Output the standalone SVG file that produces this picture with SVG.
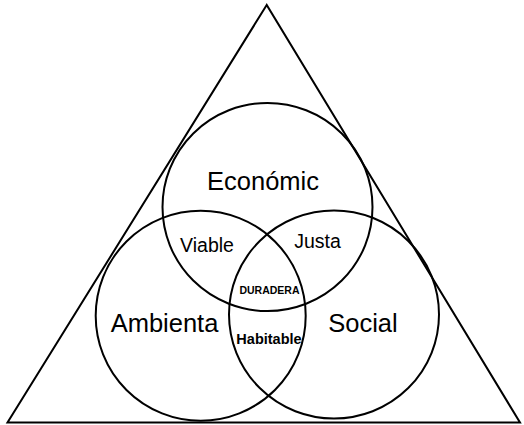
<svg xmlns="http://www.w3.org/2000/svg" width="524" height="425" viewBox="0 0 524 425">
<style>
.s{fill:none;stroke:#000;stroke-width:2}
.t{font-family:"Liberation Sans",Arial,sans-serif;fill:#000;text-anchor:middle}
.b{font-weight:bold}
</style>
<rect width="524" height="425" fill="#fff"/>
<g id="triangle"><polygon class="s" points="266.7,5 7.5,422.5 520,422.5"/></g>
<g id="economic"><ellipse class="s" cx="267.5" cy="207" rx="105" ry="104"/><text class="t" x="263" y="190" font-size="25.5">Económic</text></g>
<g id="ambiental"><ellipse class="s" cx="200.7" cy="315.7" rx="105" ry="105"/><text class="t" x="164.5" y="331.5" font-size="25.5">Ambienta</text></g>
<g id="social"><ellipse class="s" cx="334" cy="314.5" rx="105" ry="104"/><text class="t" x="363" y="331.5" font-size="25.5">Social</text></g>
<g id="viable"><text class="t" x="207" y="251.5" font-size="19.5">Viable</text></g>
<g id="justa"><text class="t" x="317.5" y="248" font-size="19.5">Justa</text></g>
<g id="duradera"><text class="t b" x="269.5" y="294" font-size="10.5">DURADERA</text></g>
<g id="habitable"><text class="t b" x="269" y="344" font-size="14.5">Habitable</text></g>
</svg>
